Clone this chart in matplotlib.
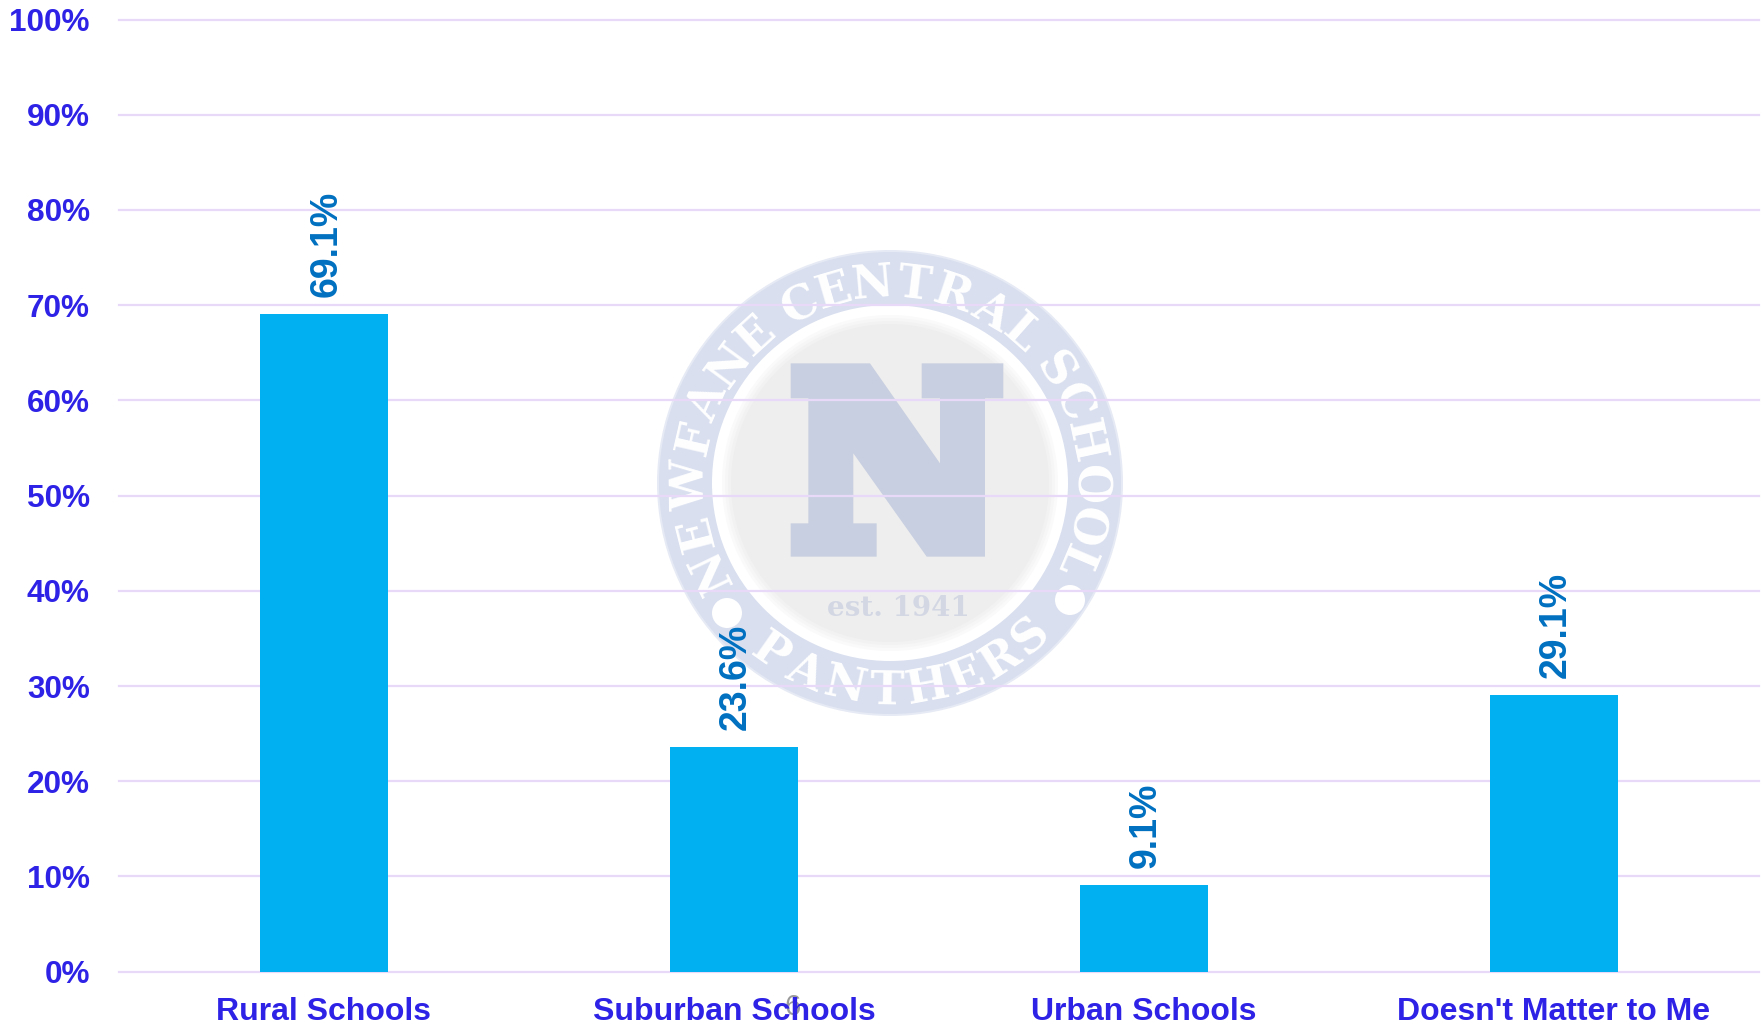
import numpy as np
import matplotlib
matplotlib.use('Agg')
import matplotlib.pyplot as plt
from matplotlib.patches import Circle, Polygon
from matplotlib.textpath import TextPath
from matplotlib.font_manager import FontProperties

categories = ['Rural Schools', 'Suburban Schools', 'Urban Schools', "Doesn't Matter to Me"]
values = [69.1, 23.6, 9.1, 29.1]
y_ticks = [0, 10, 20, 30, 40, 50, 60, 70, 80, 90, 100]

W, H = 1762, 1024
plt.rcParams['font.family'] = ['Liberation Sans', 'DejaVu Sans']

TICK_COLOR = '#2d22e6'
LABEL_COLOR = '#0070c0'
BAR_COLOR = '#00b0f0'
GRID_COLOR = '#e8d9f8'
BAND_COLOR = '#d9dfef'
N_COLOR = '#c8cfe0'

fig = plt.figure(figsize=(W / 100, H / 100), dpi=100, facecolor='white')


def arc_text(ax, s, cx, cy, radius, start, end, size, bottom=False):
    # place letters one by one along a circle, spaced by their widths
    fp = FontProperties(family='DejaVu Serif', weight='bold')
    widths = [TextPath((0, 0), c, size=size, prop=fp).get_extents().width if c != ' ' else size * 0.3 for c in s]
    widths = np.array(widths) + size * 0.05
    mids = (np.cumsum(widths) - widths / 2) / widths.sum()
    for c, m in zip(s, mids):
        a = np.radians(start + (end - start) * m)
        x = cx + radius * np.cos(a)
        y = cy - radius * np.sin(a)
        rot = np.degrees(a) - 90 if not bottom else np.degrees(a) + 90
        ax.text(x, y, c, color='white', fontsize=size, fontweight='bold', family='DejaVu Serif',
                ha='center', va='baseline', rotation=rot, rotation_mode='anchor', zorder=5)


# watermark logo, in pixel coordinates of the figure
logo = fig.add_axes([0, 0, 1, 1], zorder=0)
logo.set_xlim(0, W)
logo.set_ylim(H, 0)
logo.axis('off')
cx, cy = 890, 483
logo.add_patch(Circle((cx, cy), 233, fc='#e6eaf4', ec='none', zorder=1))
logo.add_patch(Circle((cx, cy), 231, fc=BAND_COLOR, ec='none', zorder=1))
logo.add_patch(Circle((cx, cy), 178, fc='white', ec='none', zorder=2))
for r, col in zip([168, 165, 162, 159], ['#fafafa', '#f6f6f6', '#f2f2f2', '#eeeeee']):
    logo.add_patch(Circle((cx, cy), r, fc=col, ec='none', zorder=2))

n_outline = np.array([
    (452, 400), (690, 400), (900, 700), (900, 505), (845, 505), (845, 400), (1090, 400), (1090, 505),
    (1035, 505), (1035, 980), (860, 980), (640, 670), (640, 880), (710, 880), (710, 980), (452, 980),
    (452, 880), (505, 880), (505, 505), (452, 505)])
logo.add_patch(Polygon(n_outline / 3 + [640, 230], closed=True, fc=N_COLOR, ec='none', zorder=3))
logo.text(898, 608, 'est. 1941', color='#d3d7e4', fontsize=20, fontweight='bold', family='DejaVu Serif',
          ha='center', va='center', zorder=3)

arc_text(logo, 'NEWFANE CENTRAL SCHOOL', cx, cy, 186, 212, -28, 33)
arc_text(logo, 'PANTHERS', cx, cy, 221, 230, 317, 33, bottom=True)
logo.add_patch(Circle((cx - 163, cy + 130), 15, fc='white', ec='none', zorder=5))
logo.add_patch(Circle((cx + 180, cy + 117), 15, fc='white', ec='none', zorder=5))

# main chart
ax = fig.add_axes([119 / W, 1 - 971.7 / H, 1640 / W, (971.7 - 19.5) / H], zorder=1)
ax.patch.set_alpha(0)
x = np.arange(len(categories))
ax.bar(x, values, width=0.313, color=BAR_COLOR, zorder=3)
ax.set_xlim(-0.5, len(categories) - 0.5)
ax.set_ylim(0, 100)
ax.set_yticks(y_ticks)
ax.set_yticklabels([f'{v}%' for v in y_ticks], fontsize=22.7, fontweight='bold', color=TICK_COLOR)
ax.set_xticks(x)
ax.set_xticklabels(categories, fontsize=23, fontweight='bold', color=TICK_COLOR, zorder=6)
ax.tick_params(axis='both', length=0)
ax.tick_params(axis='y', pad=21)
ax.tick_params(axis='x', pad=18)
ax.grid(axis='y', color=GRID_COLOR, linewidth=1.6, zorder=1, clip_on=False)
ax.set_axisbelow(True)
for s in ax.spines.values():
    s.set_visible(False)

for xi, v in zip(x, values):
    ax.annotate(f'{v}%', (xi, v), xytext=(1.6, 12), textcoords='offset points', rotation=90,
                ha='center', va='bottom', fontsize=27, color=LABEL_COLOR, fontweight='bold')

# stray grey mark sitting behind the second category label
logo.text(793, 1007, '6', color='#9a9a9a', fontsize=21, ha='center', va='center', zorder=2)

fig.savefig('out.png', dpi=100)
